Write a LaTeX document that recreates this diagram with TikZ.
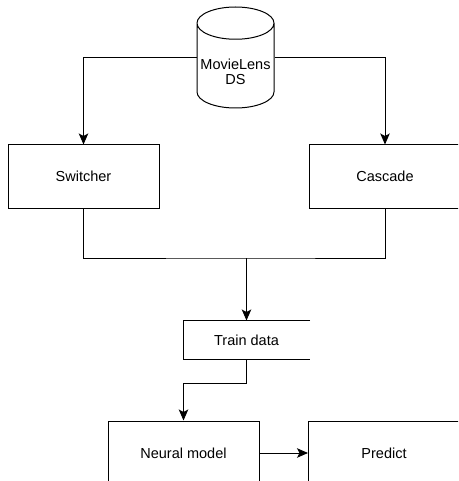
\documentclass[tikz,border=0pt]{standalone}
\usepackage{fontspec}
\setmainfont{Liberation Sans}
\usetikzlibrary{shapes.geometric,arrows.meta}

\begin{document}
\begin{tikzpicture}[x=1pt,y=-1pt,line width=1pt,
	font=\fontsize{14.5}{15.5}\selectfont,
	>={Stealth[length=11pt,width=9.5pt,inset=2.5pt]},
	box/.style={shape=rectangle,draw=black,minimum width=151pt,minimum height=63pt},
	db/.style={shape=cylinder,shape border rotate=90,draw=black,aspect=0.42,
		minimum width=77pt,minimum height=101pt,anchor=shape center}]
	\useasboundingbox (0,0) rectangle (458,481);
	\clip (0,0) rectangle (458,481);

	\node[db] (ds) at (235.5,57.5)
		{\raisebox{-5pt}[\height][\depth]{\begin{tabular}{@{}c@{}}MovieLens\\DS\end{tabular}}};
	\node[box] (sw) at (83.5,176.5) {Switcher};
	\node[box] (cas) at (385,176.5) {Cascade};
	\node[shape=rectangle,minimum width=126pt,minimum height=38pt] (tr) at (246.5,340) {Train data};
	\node[box,minimum height=64pt] (nm) at (183.5,453) {Neural model};
	\node[box,minimum height=64pt] (pr) at (384,453) {Predict};

	\coordinate (m) at (246.5,258);
	\coordinate (k) at (246.5,383);

	% train data box is open on the right
	\draw (tr.north east) -- (tr.north west) -- (tr.south west) -- (tr.south east);

	\draw[->] (ds.shape center -| ds.west) -| (sw.north);
	\draw[->] (ds.shape center -| ds.east) -| (cas.north);
	\draw (sw.south) |- (m) -| (cas.south);
	\draw[->] (m) -- (tr.north);
	\draw[->] (tr.south) -- (k) -| (nm.north);
	\draw[->] (nm) -- (pr);
\end{tikzpicture}
\end{document}
